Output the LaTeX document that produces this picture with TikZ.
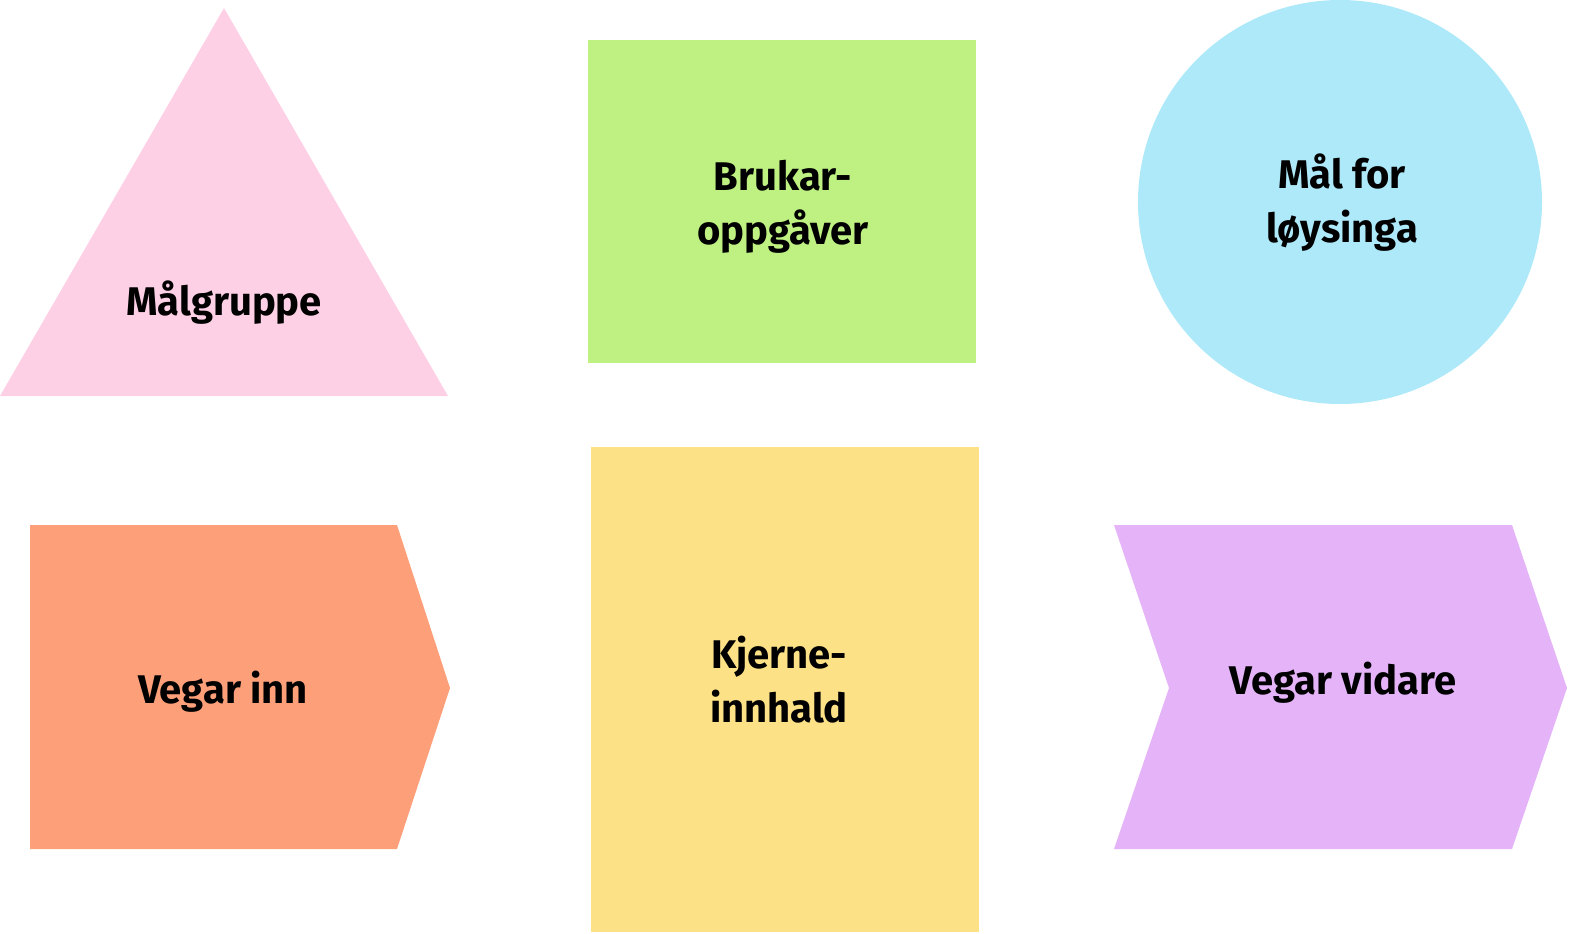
\documentclass[tikz,border=0pt]{standalone}
\usepackage{fontspec}
\setmainfont{Fira Sans}
\begin{document}
\begin{tikzpicture}[x=1pt,y=-1pt,
  lbl/.style={font=\fontsize{40}{54}\selectfont\bfseries,align=center,text=black}]
\definecolor{cpink}{HTML}{FDD0E6}
\definecolor{cgreen}{HTML}{BEF181}
\definecolor{cblue}{HTML}{ADE9F9}
\definecolor{corange}{HTML}{FDA07A}
\definecolor{cyellow}{HTML}{FCE186}
\definecolor{cpurple}{HTML}{E4B3F8}
\useasboundingbox (0,0) rectangle (1572,934);
\fill[cpink] (224,8) -- (448,396) -- (0,396) -- cycle;
\fill[cgreen] (588,40) rectangle (976,363);
\fill[cblue] (1340,202) circle[radius=202];
\fill[corange] (30,525) -- (397,525) -- (450,688) -- (397,849) -- (30,849) -- cycle;
\fill[cyellow] (591,447) rectangle (979,932);
\fill[cpurple] (1114,525) -- (1512,525) -- (1567,688) -- (1512,849) -- (1114,849) -- (1169,688) -- cycle;
\node[lbl] (t1) at (224,303) {Målgruppe};
\node[lbl] (t2) at (783,207) {Brukar-\\oppgåver};
\node[lbl] (t3) at (1342,203) {Mål for\\løysinga};
\node[lbl] (t4) at (223,692) {Vegar inn};
\node[lbl] (t5) at (779,680) {Kjerne-\\innhald};
\node[lbl] (t6) at (1343,683) {Vegar vidare};
\end{tikzpicture}
\end{document}
